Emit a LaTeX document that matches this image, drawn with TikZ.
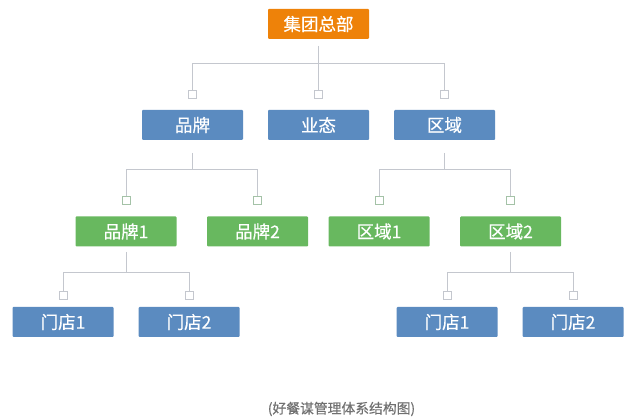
\documentclass[tikz,border=0pt]{standalone}
\usepackage{fontspec}
\setmainfont{Noto Sans CJK SC}
\newfontfamily\boxfont{Noto Sans CJK SC}[FakeBold=0.4]
\definecolor{hqorange}{HTML}{EE8209}
\definecolor{tierblue}{HTML}{5B8BC0}
\definecolor{tiergreen}{HTML}{68B85F}
\definecolor{linegray}{HTML}{C4C7CE}
\definecolor{capgray}{HTML}{707070}
\tikzset{
  unit/.style={minimum width=101pt, minimum height=30pt, inner sep=0pt, rounded corners=1pt, text=white, font=\boxfont\fontsize{17.5}{20}\selectfont},
  hq/.style={unit, fill=hqorange},
  bluebox/.style={unit, fill=tierblue},
  greenbox/.style={unit, fill=tiergreen},
  tick/.style={draw=linegray, fill=white, line width=1pt, minimum size=8.5pt, inner sep=0pt},
  wire/.style={draw=linegray, line width=1pt}
}
\begin{document}
\begin{tikzpicture}[x=1pt,y=-1pt]
\useasboundingbox (0,0) rectangle (640,419);
\node[hq] (hq) at (318.5,24) {集团总部};
\node[bluebox] (brand) at (192.5,125) {品牌};
\node[bluebox] (format) at (318.5,125) {业态};
\node[bluebox] (region) at (444.5,125) {区域};
\node[greenbox] (brandA) at (126,231.5) {品牌1};
\node[greenbox] (brandB) at (257.5,231.5) {品牌2};
\node[greenbox] (regionA) at (379,231.5) {区域1};
\node[greenbox] (regionB) at (510.5,231.5) {区域2};
\node[bluebox] (shopA) at (63,322) {门店1};
\node[bluebox] (shopB) at (189,322) {门店2};
\node[bluebox] (shopC) at (447,322) {门店1};
\node[bluebox] (shopD) at (573,322) {门店2};
% small squares above the boxes
\node[tick] (tbrand) at (192.5,94.5) {};
\node[tick] (tformat) at (318.5,94.5) {};
\node[tick] (tregion) at (444.5,94.5) {};
\node[tick, draw=tiergreen!35!linegray] (tbrandA) at (126.5,200.5) {};
\node[tick, draw=tiergreen!35!linegray] (tbrandB) at (257.5,200.5) {};
\node[tick, draw=tiergreen!35!linegray] (tregionA) at (379.5,200.5) {};
\node[tick, draw=tiergreen!35!linegray] (tregionB) at (510.5,200.5) {};
\node[tick] (tshopA) at (63.5,295.5) {};
\node[tick] (tshopB) at (189.5,295.5) {};
\node[tick] (tshopC) at (447.5,295.5) {};
\node[tick] (tshopD) at (573.5,295.5) {};
% free ends of the stems and the bars
\coordinate (shq) at (318.5,46);
\coordinate (jhq) at (318.5,63.5);
\coordinate (sbrand) at (192.5,153);
\coordinate (jbrand) at (192.5,169.5);
\coordinate (sregion) at (444.5,153);
\coordinate (jregion) at (444.5,169.5);
\coordinate (sbrandA) at (126.5,252);
\coordinate (jbrandA) at (126.5,272.5);
\coordinate (sregionB) at (510.5,252);
\coordinate (jregionB) at (510.5,272.5);
\draw[wire] (shq) -- (tformat);
\draw[wire] (tbrand) |- (jhq) -| (tregion);
\draw[wire] (sbrand) -- (jbrand);
\draw[wire] (tbrandA) |- (jbrand) -| (tbrandB);
\draw[wire] (sregion) -- (jregion);
\draw[wire] (tregionA) |- (jregion) -| (tregionB);
\draw[wire] (sbrandA) -- (jbrandA);
\draw[wire] (tshopA) |- (jbrandA) -| (tshopB);
\draw[wire] (sregionB) -- (jregionB);
\draw[wire] (tshopC) |- (jregionB) -| (tshopD);
\node[text=capgray, font=\boxfont\fontsize{13.8}{16}\selectfont] (caption) at (341.5,409) {(好餐谋管理体系结构图)};
\end{tikzpicture}
\end{document}
